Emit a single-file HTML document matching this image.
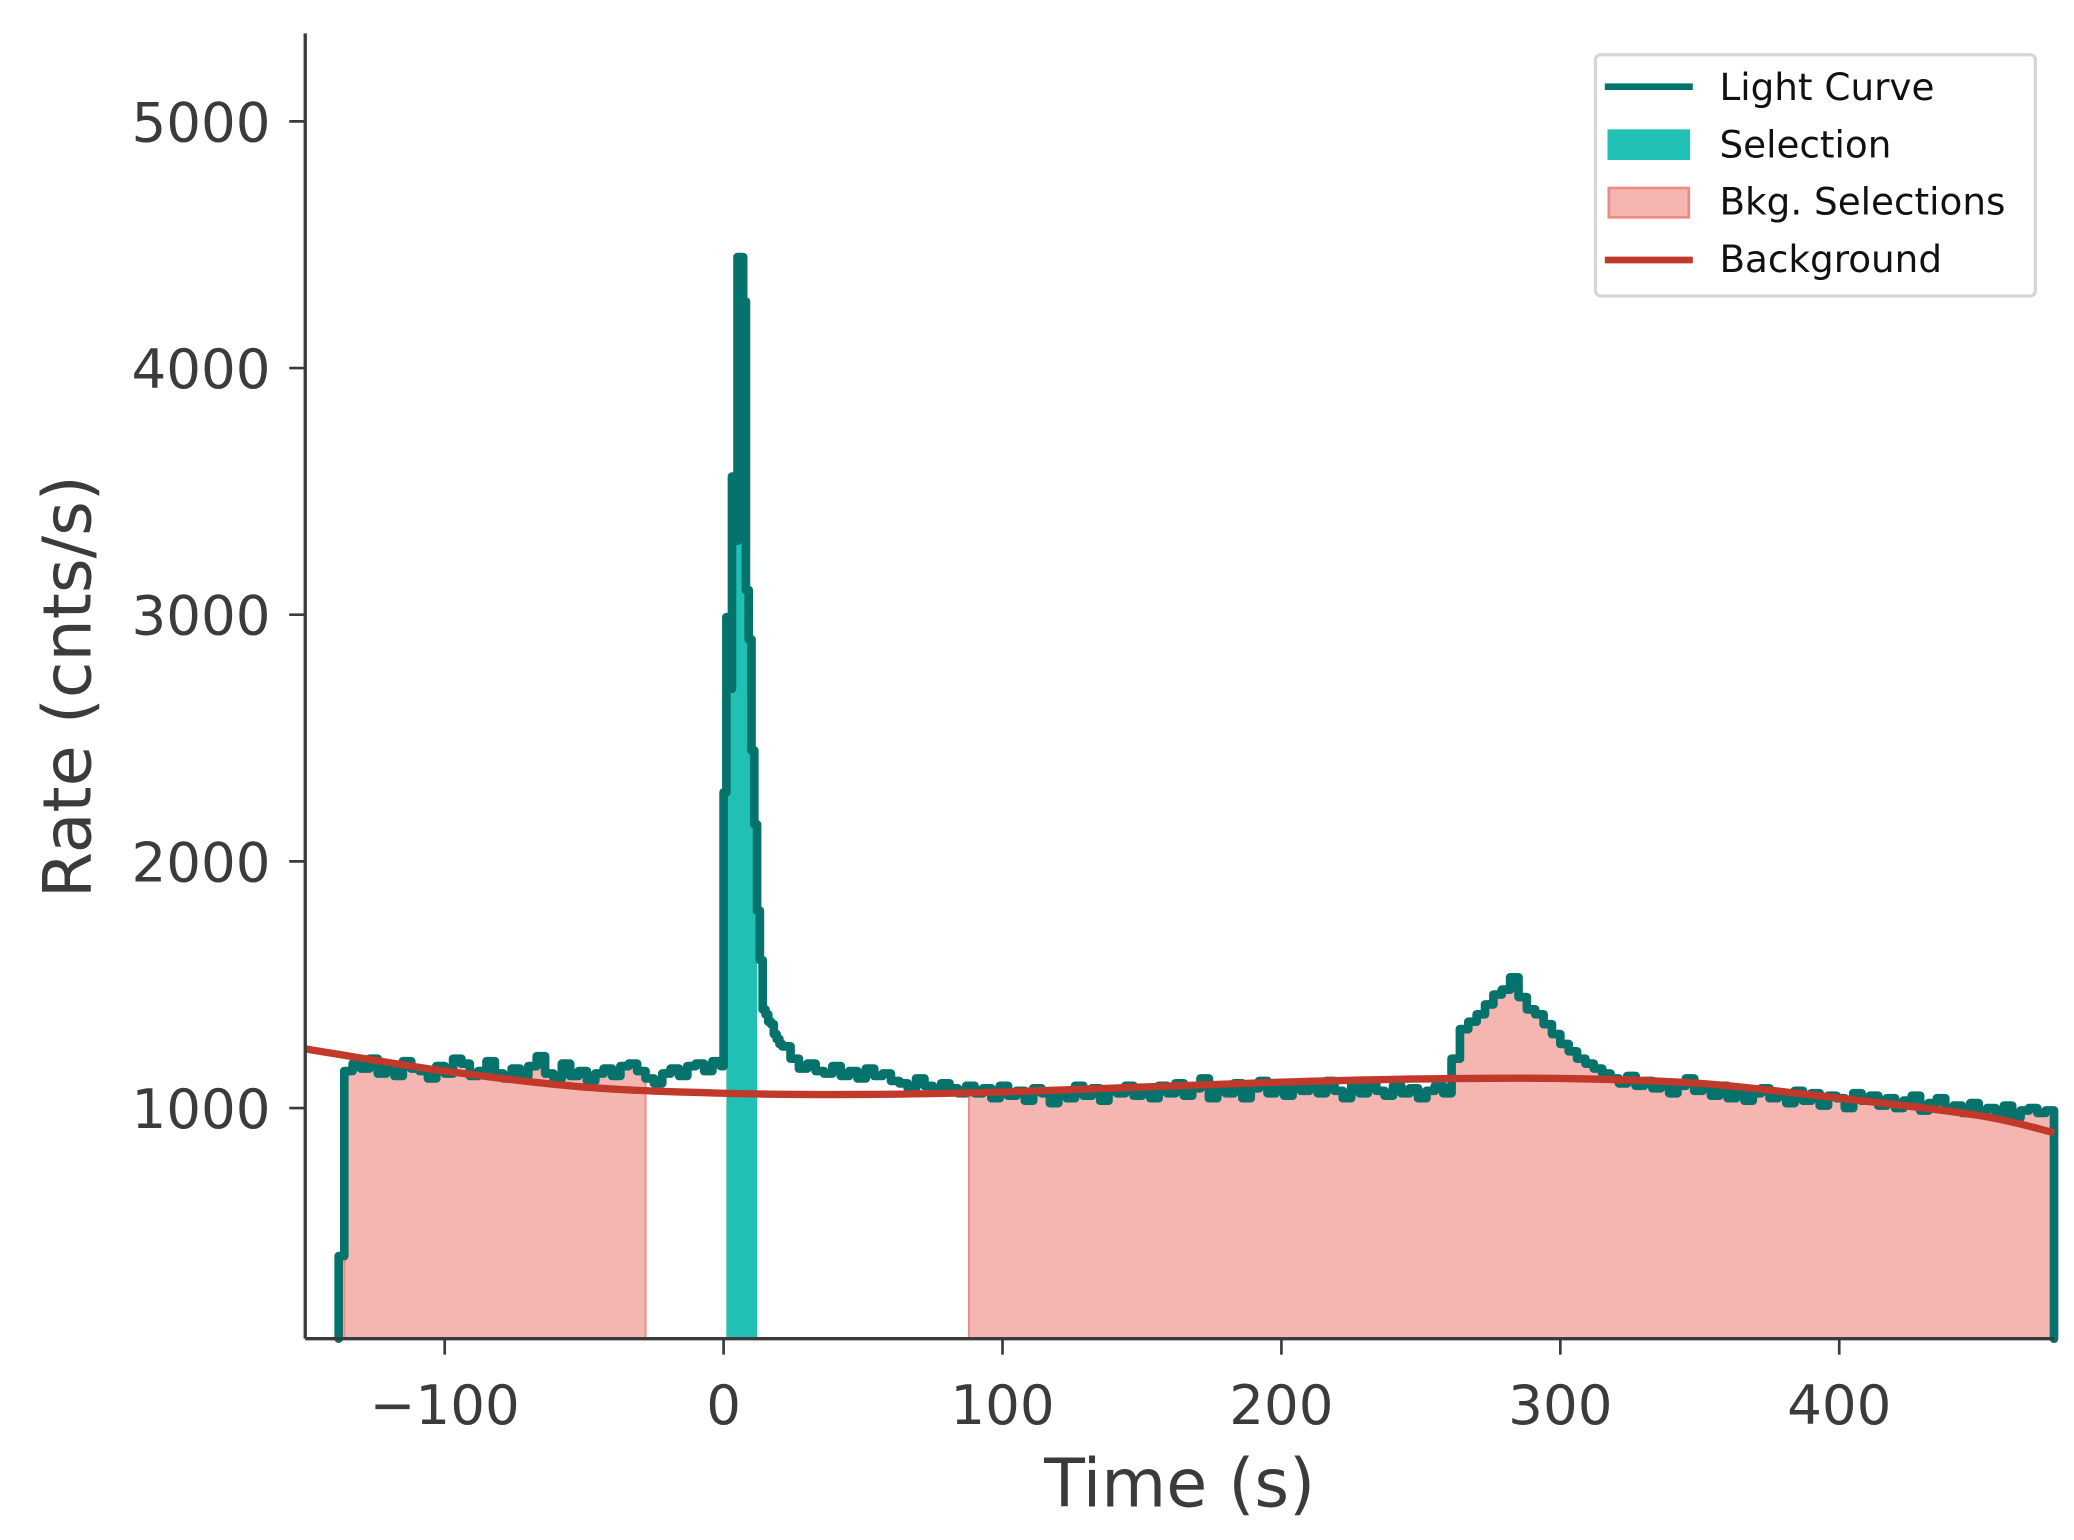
<!DOCTYPE html>
<html><head><meta charset="utf-8"><style>
html,body{margin:0;padding:0;background:#fff;}
svg{display:block;font-family:"DejaVu Sans","Liberation Sans",sans-serif;}
</style></head><body>
<svg id="chart" width="2074" height="1540" viewBox="0 0 1556 1155" preserveAspectRatio="none" xmlns="http://www.w3.org/2000/svg">
<rect width="1556" height="1155" fill="#fff"/>
<g id="plot"></g>
<g id="axes"></g>
<g id="legend">
  <rect x="1197" y="41" width="330" height="181" rx="4" fill="#fff" stroke="#d6d6d6" stroke-width="2.5"/>
  <g>
    <line x1="1204" y1="65" x2="1270" y2="65" stroke="#05726b" stroke-width="5"/>
    <text x="1290" y="75" font-size="28" fill="#111">Light Curve</text>
  </g>
  <g>
    <rect x="1206" y="97" width="62" height="23" fill="#20c0b5"/>
    <text x="1290" y="118" font-size="28" fill="#111">Selection</text>
  </g>
  <g>
    <rect x="1207" y="141" width="60" height="22" fill="#f5b6b1" stroke="#f08a80" stroke-width="2"/>
    <text x="1290" y="161" font-size="28" fill="#111">Bkg. Selections</text>
  </g>
  <g>
    <line x1="1204" y1="195" x2="1270" y2="195" stroke="#c0392b" stroke-width="5"/>
    <text x="1290" y="204" font-size="28" fill="#111">Background</text>
  </g>
</g>
</svg>
<script>
const rateLead = [400];
const rateA = [1150,1180,1160,1200,1140,1170,1130,1190,1160,1150,
  1120,1170,1140,1200,1180,1130,1150,1190,1140,1120,
  1160,1130,1170,1210,1140,1120,1180,1130,1150,1110,
  1140,1160,1130,1170,1180,1150,1120,1100,1140,1160,
  1130,1170,1180,1150,1190];
const ratePeak = [1170,2280,2990,2700,3560,3300,4450,4450,4270,3100,
  2900,2450,2150,1800,1600,1400,1380,1350,1340,1300,1280,1260];
const rateB = [1250,1200,1160,1180,1150,1140,1170,1130,1150,1120,1160,1130,1140,
  1110,1100,1080,1120,1090,1070,1100,1080,1060,1090,
  1060,1080,1040,1090,1050,1070,1030,1080,1060,1020,1070,1040,1090,1050,1080,1030,1070,1060,1090,1050,
  1070,1040,1090,1060,1100,1050,1080,1120,1040,1090,1060,1100,1040,1080,1110,1060,1090,1050,1100,1070,
  1090,1060,1110,1070,1040,1090,1060,1100,1070,1050,1090,1060,1080,1040,1070,1090,1060,
  1200,1320,1350,1380,1420,1460,1480,1530,1450,1400,1380,1340,1300,
  1260,1230,1200,1180,1160,1140,1120,1100,1130,1090,1110,1080,1100,1060,1090,1120,1070,
  1080,1050,1090,1040,1070,1030,1060,1080,1040,1050,1020,1070,1030,1060,1010,1050,1040,1000,1060,1030,1050,1010,1040,1000,1030,1050,990,1020,1040,1000,1010,980,1020,990,1000,970,1010,960,990,1000,980,990];
const bkgTimes = [-150,-100,-50,0,50,100,150,200,250,300,350,400,450,477];
const bkgRates = [1240,1150,1085,1060,1055,1065,1085,1105,1118,1120,1100,1040,970,900];
const selectionRange = [1,12];
const bkgRanges = [[-136,-28],[88,476.5]];
const xTicks = [-100,0,100,200,300,400];
const yTicks = [1000,2000,3000,4000,5000];

const X0=229,X1=1541,Y0=1004,Y1=25, TMIN=-150,TMAX=477, RMIN=65, RMAX=5357;
function xs(t){return X0+(t-TMIN)/(TMAX-TMIN)*(X1-X0);}
function ys(r){return Y0-(r-RMIN)/(RMAX-RMIN)*(Y0-Y1);}
const bins=[];
function addBins(arr,start,w){arr.forEach((v,i)=>bins.push([start+i*w,start+(i+1)*w,v]));}
addBins(rateLead,-138,2);
addBins(rateA,-136,3);
addBins(ratePeak,-1,1);
addBins(rateB,21,3);
const NS="http://www.w3.org/2000/svg";
const plot=document.getElementById('plot');
function mk(tag,attrs,parent){const e=document.createElementNS(NS,tag);for(const k in attrs)e.setAttribute(k,attrs[k]);parent.appendChild(e);return e;}
function fillPath(a,b){
  let d=`M${xs(a)},${Y0}`;
  bins.forEach(([s,e,v])=>{
    if(e<=a||s>=b)return;
    const s2=Math.max(s,a),e2=Math.min(e,b);
    d+=` L${xs(s2)},${ys(v)} L${xs(e2)},${ys(v)}`;
  });
  return d+` L${xs(b)},${Y0} Z`;
}
bkgRanges.forEach(([a,b],i)=>{
  const p=mk('path',{d:fillPath(a,b),fill:'#f5b6b1',stroke:'#f08a80','stroke-width':1.5},plot);
  
  
});
const sel=mk('path',{d:fillPath(selectionRange[0],selectionRange[1]),fill:'#20c0b5'},plot);


let d=`M${xs(bins[0][0])},${Y0}`;
bins.forEach(([s,e,v])=>{d+=` L${xs(s)},${ys(v)} L${xs(e)},${ys(v)}`;});
d+=` L${xs(bins[bins.length-1][1])},${Y0}`;
const lc=mk('path',{d:d,fill:'none',stroke:'#05726b','stroke-width':6.5,'stroke-linejoin':'round','stroke-linecap':'round'},plot);


const pts=bkgTimes.map((t,i)=>[xs(t),ys(bkgRates[i])]);
let bd=`M${pts[0][0]},${pts[0][1]}`;
for(let i=0;i<pts.length-1;i++){
  const p0=pts[Math.max(0,i-1)],p1=pts[i],p2=pts[i+1],p3=pts[Math.min(pts.length-1,i+2)];
  bd+=` C${p1[0]+(p2[0]-p0[0])/6},${p1[1]+(p2[1]-p0[1])/6} ${p2[0]-(p3[0]-p1[0])/6},${p2[1]-(p3[1]-p1[1])/6} ${p2[0]},${p2[1]}`;
}
const bg=mk('path',{d:bd,fill:'none',stroke:'#c0392b','stroke-width':5.5},plot);


const ax=document.getElementById('axes');
const xa=mk('line',{x1:X0,y1:Y0,x2:X1,y2:Y0,stroke:'#3b3b3b','stroke-width':2.5},ax);


const ya=mk('line',{x1:X0,y1:Y0,x2:X0,y2:Y1,stroke:'#3b3b3b','stroke-width':2.5},ax);


xTicks.forEach(t=>{
  mk('line',{x1:xs(t),y1:Y0,x2:xs(t),y2:Y0+12,stroke:'#3b3b3b','stroke-width':2},ax);
  const tx=mk('text',{x:xs(t),y:Y0+64,'font-size':41,fill:'#3b3b3b','text-anchor':'middle'},ax);
  tx.textContent=t<0?'\u2212'+(-t):String(t);
  
  
});
yTicks.forEach(r=>{
  mk('line',{x1:X0-12,y1:ys(r),x2:X0,y2:ys(r),stroke:'#3b3b3b','stroke-width':2},ax);
  const tx=mk('text',{x:X0-26,y:ys(r)+15,'font-size':41,fill:'#3b3b3b','text-anchor':'end'},ax);
  tx.textContent=String(r);
  
  
});
const xt=mk('text',{x:885,y:1130,'font-size':50,fill:'#3b3b3b','text-anchor':'middle'},ax);
xt.textContent='Time (s)';


const yt=mk('text',{x:0,y:0,'font-size':50,fill:'#3b3b3b','text-anchor':'middle',transform:'translate(68,515) rotate(-90)'},ax);
yt.textContent='Rate (cnts/s)';


</script>
</body></html>
